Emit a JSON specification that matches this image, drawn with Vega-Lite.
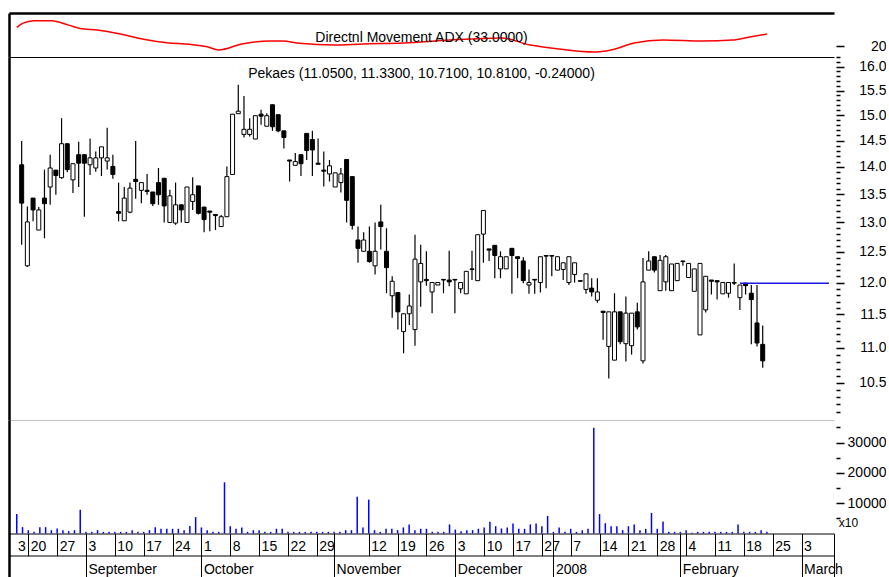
{
"$schema": "https://vega.github.io/schema/vega-lite/v6.json",
"background": "white",
"padding": {"left": 7, "top": 13, "right": 0, "bottom": 0},
"bounds": "flush",
"spacing": 0,
"config": {"font": "Liberation Sans", "view": {"stroke": null}, "axis": {"grid": false, "labelColor": "black", "tickColor": "black", "domainColor": "black", "labelFont": "Liberation Sans"}},
"datasets": {
"adx": [{"i":0,"a":40.3},{"i":1,"a":44.7},{"i":3,"a":47.5},{"i":6,"a":47.5},{"i":9,"a":42.8},{"i":11,"a":39.2},{"i":14,"a":37.4},{"i":18,"a":33},{"i":22,"a":27.3},{"i":26,"a":23.6},{"i":30,"a":21.8},{"i":33,"a":19.2},{"i":35,"a":15.7},{"i":39,"a":22.2},{"i":44,"a":25.4},{"i":46,"a":25.4},{"i":49,"a":22.9},{"i":55,"a":21},{"i":60,"a":22.2},{"i":67,"a":23.3},{"i":75,"a":26.5},{"i":84,"a":28.7},{"i":89,"a":21},{"i":94,"a":16.7},{"i":100,"a":13.5},{"i":103,"a":15.7},{"i":107,"a":23.3},{"i":112,"a":26.5},{"i":119,"a":25.4},{"i":124,"a":26.5},{"i":127,"a":29.8},{"i":130,"a":33}],
"lvl": [{"i":126,"i2":141.63,"p":11.99}],
"candles": [
{"i":0,"o":14.04,"h":14.49,"l":12.62,"c":13.34,"v":6400},
{"i":1,"o":12.27,"h":13.28,"l":12.25,"c":13.01,"v":2100},
{"i":2,"o":13.43,"h":13.43,"l":13.02,"c":13.22,"v":1100},
{"i":3,"o":12.87,"h":13.27,"l":12.87,"c":13.22,"v":550},
{"i":4,"o":13.43,"h":13.95,"l":12.73,"c":13.33,"v":2100},
{"i":5,"o":13.63,"h":14.23,"l":13.31,"c":13.98,"v":2100},
{"i":6,"o":13.94,"h":13.94,"l":13.49,"c":13.84,"v":1100},
{"i":7,"o":13.80,"h":14.94,"l":13.78,"c":14.44,"v":1650},
{"i":8,"o":14.44,"h":14.44,"l":13.90,"c":13.95,"v":1100},
{"i":9,"o":13.76,"h":14.06,"l":13.52,"c":14.06,"v":770},
{"i":10,"o":14.23,"h":14.48,"l":13.63,"c":14.07,"v":1100},
{"i":11,"o":14.23,"h":14.23,"l":13.10,"c":14.07,"v":7800},
{"i":12,"o":14.04,"h":14.54,"l":13.85,"c":14.17,"v":550},
{"i":13,"o":13.98,"h":14.29,"l":13.91,"c":14.17,"v":550},
{"i":14,"o":14.17,"h":14.38,"l":13.83,"c":14.38,"v":1100},
{"i":15,"o":14.11,"h":14.75,"l":13.95,"c":14.17,"v":550},
{"i":16,"o":14.01,"h":14.23,"l":13.78,"c":13.86,"v":550},
{"i":17,"o":13.19,"h":13.71,"l":13.02,"c":13.16,"v":550},
{"i":18,"o":13.03,"h":13.63,"l":13.03,"c":13.43,"v":550},
{"i":19,"o":13.18,"h":13.71,"l":13.16,"c":13.61,"v":550},
{"i":20,"o":13.77,"h":14.49,"l":13.42,"c":13.73,"v":1100},
{"i":21,"o":13.57,"h":13.71,"l":13.34,"c":13.71,"v":550},
{"i":22,"o":13.57,"h":13.87,"l":13.49,"c":13.55,"v":550},
{"i":23,"o":13.54,"h":13.54,"l":13.29,"c":13.33,"v":1100},
{"i":24,"o":13.71,"h":13.98,"l":13.31,"c":13.49,"v":2100},
{"i":25,"o":13.79,"h":13.79,"l":13.00,"c":13.29,"v":1550},
{"i":26,"o":13.00,"h":13.58,"l":13.00,"c":13.47,"v":1550},
{"i":27,"o":12.99,"h":13.71,"l":12.96,"c":13.31,"v":1550},
{"i":28,"o":13.31,"h":13.31,"l":13.00,"c":13.22,"v":1550},
{"i":29,"o":13.00,"h":13.63,"l":13.00,"c":13.63,"v":1100},
{"i":30,"o":13.37,"h":13.81,"l":13.22,"c":13.49,"v":2500},
{"i":31,"o":13.65,"h":13.65,"l":13.14,"c":13.16,"v":5400},
{"i":32,"o":13.27,"h":13.27,"l":12.83,"c":13.05,"v":2000},
{"i":33,"o":13.20,"h":13.20,"l":12.85,"c":13.18,"v":1100},
{"i":34,"o":13.14,"h":13.14,"l":12.87,"c":13.12,"v":550},
{"i":35,"o":12.93,"h":13.13,"l":12.93,"c":13.10,"v":550},
{"i":36,"o":13.10,"h":14.01,"l":13.10,"c":13.82,"v":16900},
{"i":37,"o":13.86,"h":15.02,"l":13.86,"c":15.02,"v":2400},
{"i":38,"o":15.03,"h":15.62,"l":15.03,"c":15.08,"v":1550},
{"i":39,"o":14.62,"h":15.39,"l":14.56,"c":14.72,"v":2000},
{"i":40,"o":14.62,"h":14.94,"l":14.58,"c":14.72,"v":550},
{"i":41,"o":14.53,"h":14.99,"l":14.53,"c":14.99,"v":1100},
{"i":42,"o":15.02,"h":15.11,"l":14.81,"c":14.98,"v":1100},
{"i":43,"o":14.78,"h":15.04,"l":14.78,"c":14.99,"v":550},
{"i":44,"o":15.21,"h":15.21,"l":14.69,"c":14.77,"v":550},
{"i":45,"o":15.01,"h":15.01,"l":14.66,"c":14.69,"v":1550},
{"i":46,"o":14.69,"h":14.69,"l":14.35,"c":14.56,"v":1550},
{"i":47,"o":14.13,"h":14.13,"l":13.73,"c":14.11,"v":550},
{"i":48,"o":14.03,"h":14.26,"l":14.03,"c":14.10,"v":550},
{"i":49,"o":14.23,"h":14.23,"l":13.83,"c":14.06,"v":550},
{"i":50,"o":14.64,"h":14.64,"l":14.13,"c":14.31,"v":550},
{"i":51,"o":14.52,"h":14.69,"l":13.83,"c":14.32,"v":550},
{"i":52,"o":14.07,"h":14.54,"l":14.05,"c":14.05,"v":550},
{"i":53,"o":13.94,"h":14.29,"l":13.64,"c":13.92,"v":550},
{"i":54,"o":13.87,"h":14.13,"l":13.73,"c":14.02,"v":550},
{"i":55,"o":13.63,"h":13.89,"l":13.63,"c":13.89,"v":550},
{"i":56,"o":13.71,"h":13.98,"l":13.53,"c":13.87,"v":550},
{"i":57,"o":14.14,"h":14.14,"l":13.00,"c":13.39,"v":1100},
{"i":58,"o":13.82,"h":13.82,"l":12.88,"c":12.95,"v":1100},
{"i":59,"o":12.70,"h":12.93,"l":12.32,"c":12.56,"v":12100},
{"i":60,"o":12.51,"h":12.83,"l":12.51,"c":12.70,"v":2000},
{"i":61,"o":12.51,"h":12.93,"l":12.32,"c":12.34,"v":11200},
{"i":62,"o":12.27,"h":13.00,"l":12.13,"c":12.51,"v":1100},
{"i":63,"o":13.01,"h":13.31,"l":12.54,"c":12.93,"v":550},
{"i":64,"o":12.51,"h":12.90,"l":11.83,"c":12.24,"v":1550},
{"i":65,"o":11.79,"h":12.10,"l":11.45,"c":12.02,"v":1550},
{"i":66,"o":11.84,"h":11.84,"l":11.27,"c":11.54,"v":1100},
{"i":67,"o":11.24,"h":11.51,"l":10.92,"c":11.51,"v":2000},
{"i":68,"o":11.51,"h":11.81,"l":11.34,"c":11.63,"v":3000},
{"i":69,"o":11.27,"h":12.79,"l":11.03,"c":12.38,"v":1100},
{"i":70,"o":12.01,"h":12.62,"l":11.62,"c":12.31,"v":1550},
{"i":71,"o":12.05,"h":12.51,"l":11.95,"c":12.03,"v":1550},
{"i":72,"o":11.85,"h":12.00,"l":11.52,"c":12.00,"v":550},
{"i":73,"o":11.96,"h":12.00,"l":11.96,"c":12.00,"v":550},
{"i":74,"o":12.05,"h":12.05,"l":11.83,"c":12.04,"v":550},
{"i":75,"o":12.04,"h":12.52,"l":11.94,"c":12.01,"v":3000},
{"i":76,"o":12.05,"h":12.05,"l":11.52,"c":12.04,"v":1300},
{"i":77,"o":11.90,"h":12.00,"l":11.83,"c":12.00,"v":770},
{"i":78,"o":11.82,"h":12.18,"l":11.82,"c":12.18,"v":1100},
{"i":79,"o":12.22,"h":12.52,"l":12.04,"c":12.21,"v":1100},
{"i":80,"o":12.03,"h":12.79,"l":12.03,"c":12.79,"v":1550},
{"i":81,"o":12.80,"h":13.21,"l":12.32,"c":13.21,"v":2000},
{"i":82,"o":12.55,"h":12.55,"l":12.35,"c":12.53,"v":3850},
{"i":83,"o":12.61,"h":12.61,"l":12.07,"c":12.44,"v":2400},
{"i":84,"o":12.22,"h":12.51,"l":12.07,"c":12.42,"v":1650},
{"i":85,"o":12.22,"h":12.42,"l":12.22,"c":12.42,"v":2000},
{"i":86,"o":12.56,"h":12.56,"l":11.82,"c":12.44,"v":3300},
{"i":87,"o":12.42,"h":12.42,"l":12.07,"c":12.39,"v":1550},
{"i":88,"o":12.35,"h":12.41,"l":11.99,"c":12.03,"v":1550},
{"i":89,"o":11.96,"h":12.21,"l":11.82,"c":12.00,"v":3000},
{"i":90,"o":12.05,"h":12.05,"l":11.82,"c":12.04,"v":3300},
{"i":91,"o":12.00,"h":12.42,"l":11.84,"c":12.42,"v":2400},
{"i":92,"o":12.44,"h":12.44,"l":11.91,"c":12.43,"v":5800},
{"i":93,"o":12.44,"h":12.44,"l":12.10,"c":12.43,"v":550},
{"i":94,"o":12.20,"h":12.42,"l":12.20,"c":12.42,"v":2000},
{"i":95,"o":12.21,"h":12.32,"l":12.04,"c":12.32,"v":550},
{"i":96,"o":12.00,"h":12.42,"l":11.96,"c":12.42,"v":1550},
{"i":97,"o":12.13,"h":12.32,"l":12.00,"c":12.32,"v":550},
{"i":98,"o":12.03,"h":12.03,"l":12.02,"c":12.02,"v":1100},
{"i":99,"o":11.89,"h":12.14,"l":11.82,"c":12.14,"v":1550},
{"i":100,"o":11.91,"h":12.07,"l":11.78,"c":11.85,"v":34900},
{"i":101,"o":11.72,"h":12.07,"l":11.68,"c":11.85,"v":6400},
{"i":102,"o":11.55,"h":11.55,"l":11.12,"c":11.53,"v":3400},
{"i":103,"o":11.02,"h":11.54,"l":10.56,"c":11.54,"v":2400},
{"i":104,"o":10.82,"h":11.83,"l":10.82,"c":11.54,"v":2400},
{"i":105,"o":11.54,"h":11.54,"l":11.05,"c":11.09,"v":1100},
{"i":106,"o":11.06,"h":11.78,"l":10.80,"c":11.52,"v":2400},
{"i":107,"o":11.03,"h":11.52,"l":10.90,"c":11.52,"v":3000},
{"i":108,"o":11.54,"h":11.68,"l":11.27,"c":11.31,"v":1100},
{"i":109,"o":10.81,"h":12.40,"l":10.77,"c":12.01,"v":1550},
{"i":110,"o":12.20,"h":12.51,"l":12.20,"c":12.35,"v":6800},
{"i":111,"o":12.42,"h":12.42,"l":12.16,"c":12.20,"v":1550},
{"i":112,"o":11.87,"h":12.45,"l":11.87,"c":12.36,"v":4000},
{"i":113,"o":12.01,"h":12.45,"l":11.87,"c":12.42,"v":550},
{"i":114,"o":11.87,"h":12.30,"l":11.87,"c":12.30,"v":550},
{"i":115,"o":12.03,"h":12.31,"l":12.03,"c":12.31,"v":550},
{"i":116,"o":12.35,"h":12.35,"l":12.27,"c":12.34,"v":1100},
{"i":117,"o":12.08,"h":12.31,"l":12.08,"c":12.31,"v":220},
{"i":118,"o":11.86,"h":12.22,"l":11.86,"c":12.22,"v":550},
{"i":119,"o":11.19,"h":12.31,"l":11.19,"c":12.31,"v":550},
{"i":120,"o":11.57,"h":12.10,"l":11.53,"c":12.10,"v":550},
{"i":121,"o":12.04,"h":12.04,"l":11.81,"c":12.02,"v":550},
{"i":122,"o":12.03,"h":12.03,"l":11.73,"c":12.01,"v":550},
{"i":123,"o":11.82,"h":12.00,"l":11.82,"c":12.00,"v":550},
{"i":124,"o":11.83,"h":12.00,"l":11.76,"c":12.00,"v":550},
{"i":125,"o":12.00,"h":12.31,"l":11.96,"c":11.99,"v":3000},
{"i":126,"o":11.76,"h":11.96,"l":11.57,"c":11.96,"v":550},
{"i":127,"o":11.99,"h":11.99,"l":11.81,"c":11.95,"v":550},
{"i":128,"o":11.83,"h":11.96,"l":11.05,"c":11.73,"v":550},
{"i":129,"o":11.37,"h":11.96,"l":11.02,"c":11.07,"v":1100},
{"i":130,"o":11.05,"h":11.33,"l":10.71,"c":10.81,"v":550}
]
},
"vconcat": [
{
"width": 825, "height": 44,
"title": {"text": "Directnl Movement ADX (33.0000)", "offset": -32, "fontSize": 14, "fontWeight": "normal", "font": "Liberation Sans", "color": "black", "anchor": "middle", "frame": "group"},
"data": {"name": "adx"},
"layer": [
{"mark": {"type": "line", "stroke": "#ff0000", "strokeWidth": 1.5, "interpolate": "monotone"},
 "encoding": {
  "x": {"field": "i", "type": "quantitative", "scale": {"domain": [-1.345, 141.63], "nice": false, "zero": false},
        "axis": {"orient": "top", "title": null, "labels": false, "ticks": false, "domain": true, "domainWidth": 2.5}},
  "y": {"field": "a", "type": "quantitative", "scale": {"domain": [8, 56], "nice": false, "zero": false},
        "axis": {"orient": "right", "title": null, "values": [20], "offset": 2, "tickSize": 8, "tickWidth": 1.5, "domain": false, "labelAlign": "right", "labelPadding": 42, "labelFontSize": 14, "labelBaseline": "middle", "labelFlush": false}}
 }},
{"mark": {"type": "line", "strokeOpacity": 0},
 "encoding": {
  "x": {"field": "i", "type": "quantitative", "scale": {"domain": [-1.345, 141.63], "nice": false, "zero": false},
        "axis": {"orient": "bottom", "title": null, "labels": false, "ticks": false, "domain": true, "domainWidth": 1}},
  "y": {"field": "a", "type": "quantitative", "scale": {"domain": [8, 56], "nice": false, "zero": false},
        "axis": {"orient": "left", "title": null, "labels": false, "ticks": false, "domain": true, "domainWidth": 2.5}}
 }}
],
"resolve": {"axis": {"x": "independent", "y": "independent"}}
},
{
"width": 825, "height": 363,
"title": {"text": "Pekaes (11.0500, 11.3300, 10.7100, 10.8100, -0.24000)", "offset": -25, "fontSize": 14, "fontWeight": "normal", "font": "Liberation Sans", "color": "black", "anchor": "middle", "frame": "group"},
"layer": [
{"data": {"name": "candles"}, "mark": {"type": "rule", "color": "black", "strokeWidth": 1.2},
 "encoding": {
  "x": {"field": "i", "type": "quantitative", "scale": {"domain": [-1.345, 141.63], "nice": false, "zero": false},
        "axis": {"orient": "bottom", "title": null, "labels": false, "ticks": false, "domain": true, "domainColor": "#c0c0c0", "domainWidth": 1}},
  "y": {"field": "l", "type": "quantitative", "scale": {"type": "log", "domain": [9.99, 16.21], "nice": false},
        "axis": {"orient": "right", "title": null, "values": [10.5, 11, 11.5, 12, 12.5, 13, 13.5, 14, 14.5, 15, 15.5, 16], "format": ".1f", "offset": 2, "tickSize": 8, "tickWidth": 1.5, "domain": false, "labelAlign": "right", "labelPadding": 42, "labelFontSize": 14, "labelBaseline": "middle", "labelFlush": false, "labelOverlap": false}},
  "y2": {"field": "h"}
 }},
{"data": {"name": "candles"}, "mark": {"type": "bar", "size": 4, "stroke": "black", "strokeWidth": 1, "orient": "vertical"},
 "encoding": {
  "x": {"field": "i", "type": "quantitative", "scale": {"domain": [-1.345, 141.63], "nice": false, "zero": false}, "axis": null},
  "y": {"field": "o", "type": "quantitative", "scale": {"type": "log", "domain": [9.99, 16.21], "nice": false},
        "axis": {"orient": "left", "title": null, "labels": false, "ticks": false, "domain": true, "domainWidth": 2.5}},
  "y2": {"field": "c"},
  "fill": {"condition": {"test": "datum.c < datum.o", "value": "black"}, "value": "white"}
 }},
{"data": {"name": "candles"}, "mark": {"type": "rule", "strokeOpacity": 0},
 "encoding": {
  "x": {"field": "i", "type": "quantitative", "scale": {"domain": [-1.345, 141.63], "nice": false, "zero": false}, "axis": null},
  "y": {"field": "l", "type": "quantitative", "scale": {"type": "log", "domain": [9.99, 16.21], "nice": false},
        "axis": {"orient": "right", "title": null, "values": [10.1,10.2,10.3,10.4,10.6,10.7,10.8,10.9,11.1,11.2,11.3,11.4,11.6,11.7,11.8,11.9,12.1,12.2,12.3,12.4,12.6,12.7,12.8,12.9,13.1,13.2,13.3,13.4,13.6,13.7,13.8,13.9,14.1,14.2,14.3,14.4,14.6,14.7,14.8,14.9,15.1,15.2,15.3,15.4,15.6,15.7,15.8,15.9,16.1,16.2], "offset": 2, "tickSize": 4, "tickWidth": 1.5, "domain": false, "labels": false}}
 }},
{"data": {"name": "lvl"}, "mark": {"type": "rule", "color": "#1a1ae6", "strokeWidth": 1.5},
 "encoding": {
  "x": {"field": "i", "type": "quantitative", "scale": {"domain": [-1.345, 141.63], "nice": false, "zero": false}, "axis": null},
  "x2": {"field": "i2"},
  "y": {"field": "p", "type": "quantitative", "scale": {"type": "log", "domain": [9.99, 16.21], "nice": false}, "axis": null}
 }}
],
"resolve": {"axis": {"x": "independent", "y": "independent"}}
},
{
"width": 825, "height": 113.5,
"data": {"name": "candles"},
"layer": [
{"mark": {"type": "rule", "color": "#0000ff", "strokeWidth": 1.5},
 "encoding": {
  "x": {"field": "i", "type": "quantitative", "scale": {"domain": [-1.345, 141.63], "nice": false, "zero": false},
        "axis": {"orient": "bottom", "title": null, "values": [-1.345,-0.2,2,7,12,17,22,27,32,37,42,47,52,55,61,66,71,76,81,86,91,93,96,101,106,111,115,116,121,126,131,136,141.63],
                 "labelExpr": "['','3','20','27','3','10','17','24','1','8','15','22','29','','12','19','26','3','10','17','27','','7','14','21','28','','4','11','18','25','3',''][indexof([-1.345,-0.2,2,7,12,17,22,27,32,37,42,47,52,55,61,66,71,76,81,86,91,93,96,101,106,111,115,116,121,126,131,136,141.63], datum.value)]",
                 "tickSize": 22, "tickWidth": {"condition": {"test": "datum.value < -1", "value": 2.5}, "value": 1},
                 "tickOpacity": {"condition": {"test": "datum.value > -1 && datum.value < 0", "value": 0}, "value": 1},
                 "domain": true, "domainWidth": 1, "labelAlign": "left", "labelBaseline": "top", "labelPadding": -16, "labelOffset": 2, "labelFontSize": 14, "labelOverlap": false, "labelFlush": false, "labelBound": false}},
  "y": {"field": "v", "type": "quantitative", "scale": {"domain": [0, 37460], "nice": false, "zero": false},
        "axis": {"orient": "right", "title": null, "values": [10000, 20000, 30000], "format": "d", "offset": 2, "tickSize": 8, "tickWidth": 1.5, "domain": false, "labelAlign": "right", "labelPadding": 42, "labelFontSize": 14, "labelBaseline": "middle", "labelFlush": false}},
  "y2": {"datum": 0}
 }},
{"mark": {"type": "rule", "strokeOpacity": 0},
 "encoding": {
  "x": {"field": "i", "type": "quantitative", "scale": {"domain": [-1.345, 141.63], "nice": false, "zero": false},
        "axis": {"orient": "bottom", "offset": 22, "title": null, "values": [-1.345,12,32,55,76,93,115,136,141.63],
                 "labelExpr": "['','September','October','November','December','2008','February','March',''][indexof([-1.345,12,32,55,76,93,115,136,141.63], datum.value)]",
                 "tickSize": 22, "tickWidth": {"condition": {"test": "datum.value < -1", "value": 2.5}, "value": 1},
                 "domain": true, "domainWidth": 1, "labelAlign": "left", "labelBaseline": "top", "labelPadding": -15, "labelOffset": 2, "labelFontSize": 14, "labelOverlap": false, "labelFlush": false, "labelBound": false}},
  "y": {"field": "v", "type": "quantitative", "scale": {"domain": [0, 37460], "nice": false, "zero": false},
        "axis": {"orient": "right", "title": "x10", "titleAngle": 0, "titleX": 12, "titleY": 102, "titleAlign": "center", "titleBaseline": "middle", "titleFontSize": 12, "titleFontWeight": "normal", "titleFont": "Liberation Sans", "titleColor": "black", "values": [5000, 15000, 25000, 35000], "offset": 2, "tickSize": 4, "tickWidth": 1.5, "domain": false, "labels": false}}
 }},
{"mark": {"type": "rule", "strokeOpacity": 0},
 "encoding": {
  "x": {"field": "i", "type": "quantitative", "scale": {"domain": [-1.345, 141.63], "nice": false, "zero": false}, "axis": null},
  "y": {"field": "v", "type": "quantitative", "scale": {"domain": [0, 37460], "nice": false, "zero": false},
        "axis": {"orient": "left", "title": null, "labels": false, "ticks": false, "domain": true, "domainWidth": 2.5}}
 }}
],
"resolve": {"axis": {"x": "independent", "y": "independent"}}
}
]
}
